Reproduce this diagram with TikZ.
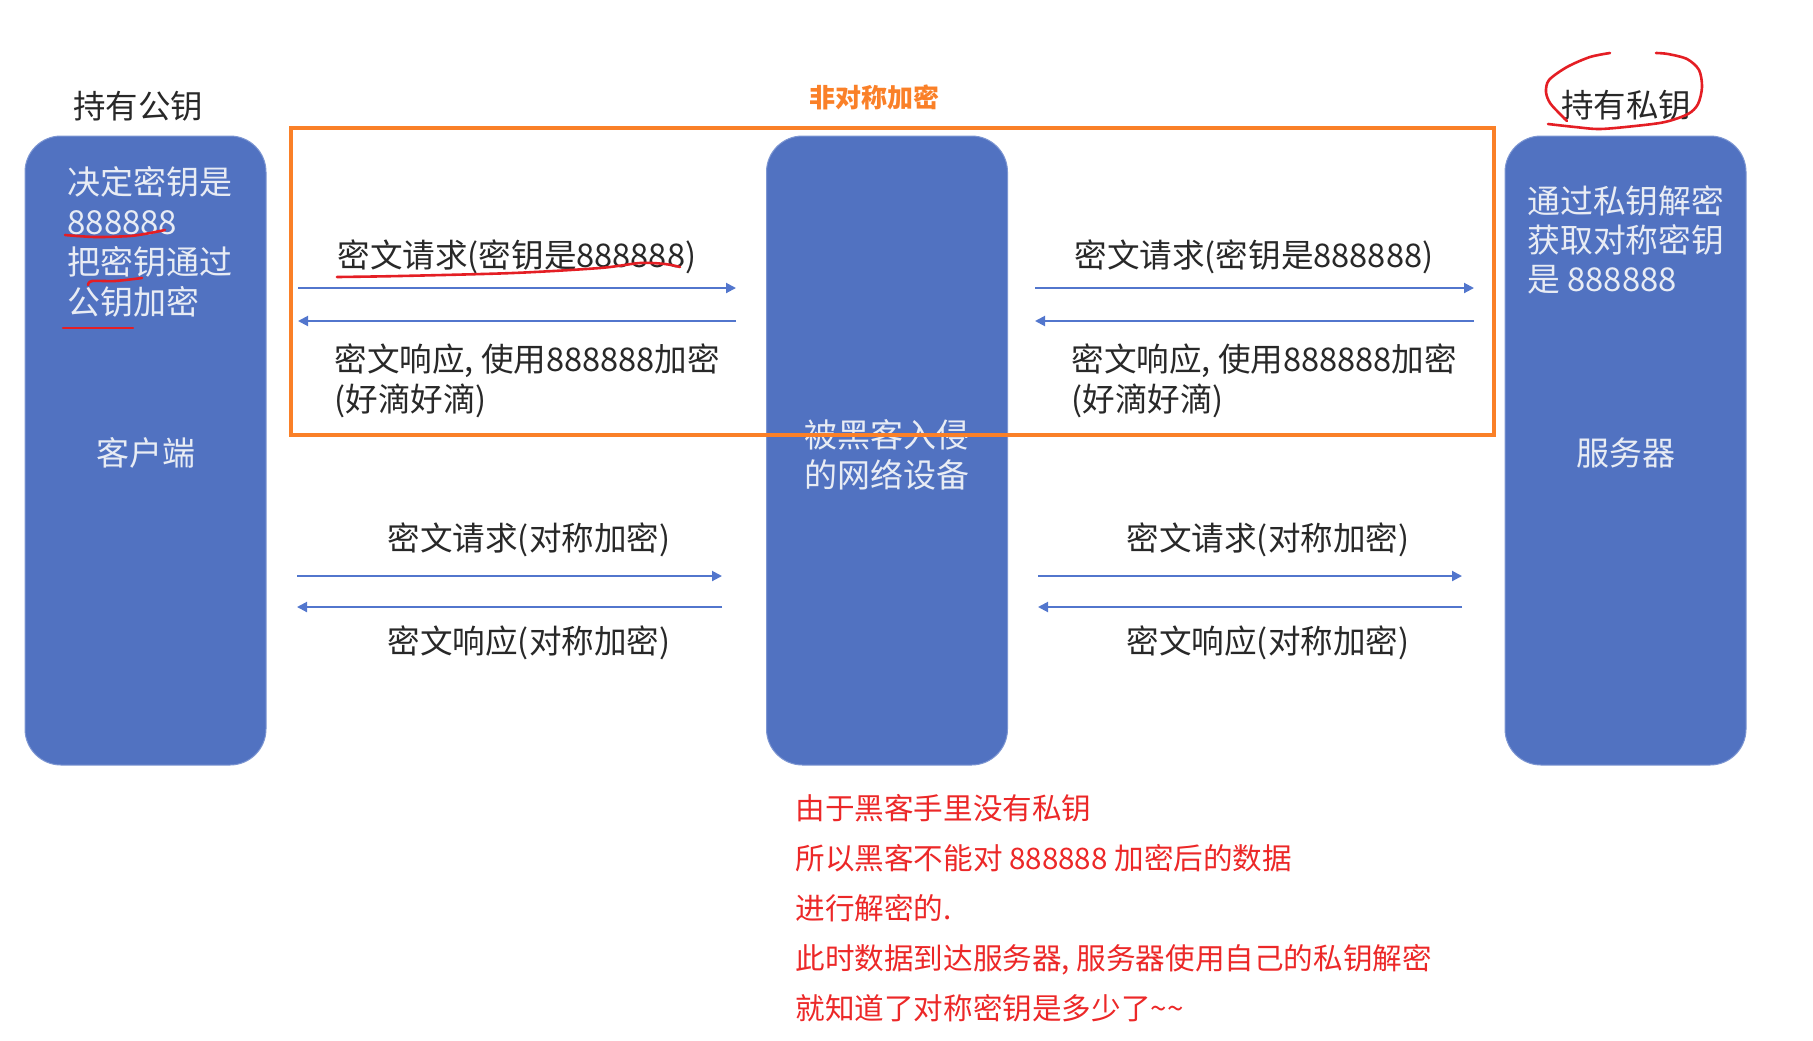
\documentclass[tikz,border=0pt]{standalone}
\usepackage{fontspec}
\setmainfont{Noto Sans CJK SC}
\usetikzlibrary{arrows.meta}
\definecolor{boxblue}{RGB}{81,114,193}
\definecolor{boxedge}{RGB}{125,150,210}
\definecolor{boxtext}{RGB}{232,236,244}
\definecolor{labeltext}{RGB}{40,40,40}
\definecolor{arrowblue}{RGB}{82,118,205}
\definecolor{frameorange}{RGB}{250,128,40}
\definecolor{markred}{RGB}{228,30,36}
\definecolor{notered}{RGB}{236,40,40}
\begin{document}
\begin{tikzpicture}[x=0.5pt,y=-0.5pt,
  bigbox/.style={draw=boxedge, line width=0.5pt, fill=boxblue, rounded corners=18pt,
    minimum width=120.5pt, minimum height=314.5pt, inner sep=0pt},
  boxlabel/.style={text=boxtext, inner sep=0pt, font=\fontsize{16.5}{20}\selectfont},
  title/.style={text=labeltext, inner sep=0pt, font=\fontsize{16.25}{20}\selectfont},
  msg/.style={text=labeltext, inner sep=0pt, font=\fontsize{16.3}{20}\selectfont},
  note/.style={text=notered, inner sep=0pt, align=left, font=\fontsize{14.8}{25}\selectfont},
  flow/.style={draw=arrowblue, line width=1pt, -{Triangle[length=5pt,width=5pt]}},
  redmark/.style={draw=markred, line width=1.3pt, line cap=round, line join=round},
  frame/.style={draw=frameorange, line width=2pt}
]
\useasboundingbox (0,0) rectangle (1813,1040);

% boxes
\node[bigbox] (client) at (145.5,450.5) {};
\node[bigbox] (hacker) at (887,450.5) {};
\node[bigbox] (server) at (1625.5,450.5) {};

% titles
\node[title] (pubtitle) at (138,106) {持有公钥};
\node[title] (privtitle) at (1626,105) {持有私钥};
\node[text=frameorange, inner sep=0pt, font=\fontsize{13}{15}\selectfont\bfseries] (asym) at (874,97) {非对称加密};

% box texts
\node[boxlabel, anchor=north west, align=left] (clienttext) at (67,166) {决定密钥是\\888888\\把密钥通过\\公钥加密};
\node[boxlabel] (clientname) at (146,453) {客户端};
\node[boxlabel, anchor=north west, align=left, font=\fontsize{16.4}{19.5}\selectfont] (servertext) at (1527,185) {通过私钥解密\\获取对称密钥\\是 888888};
\node[boxlabel] (servername) at (1626,453) {服务器};
\node[boxlabel, anchor=north, align=center] (hackertext) at (887,419) {被黑客入侵\\的网络设备};

% arrow endpoints
\coordinate (a1s) at (298,288); \coordinate (a1e) at (736,288);
\coordinate (a2s) at (736,321); \coordinate (a2e) at (298,321);
\coordinate (b1s) at (1035,288); \coordinate (b1e) at (1474,288);
\coordinate (b2s) at (1474,321); \coordinate (b2e) at (1035,321);
\coordinate (c1s) at (297,576); \coordinate (c1e) at (722,576);
\coordinate (c2s) at (722,607); \coordinate (c2e) at (297,607);
\coordinate (d1s) at (1038,576); \coordinate (d1e) at (1462,576);
\coordinate (d2s) at (1462,607); \coordinate (d2e) at (1038,607);

\draw[flow] (a1s) -- (a1e);
\draw[flow] (a2s) -- (a2e);
\draw[flow] (b1s) -- (b1e);
\draw[flow] (b2s) -- (b2e);
\draw[flow] (c1s) -- (c1e);
\draw[flow] (c2s) -- (c2e);
\draw[flow] (d1s) -- (d1e);
\draw[flow] (d2s) -- (d2e);

% message labels
\node[msg, anchor=west] (req1) at (337,257) {密文请求(密钥是888888)};
\node[msg, anchor=north west, align=left] (resp1) at (334,343) {密文响应, 使用888888加密\\(好滴好滴)};
\node[msg, anchor=west] (req2) at (1074,257) {密文请求(密钥是888888)};
\node[msg, anchor=north west, align=left] (resp2) at (1071,343) {密文响应, 使用888888加密\\(好滴好滴)};
\node[msg] (req3) at (529,540) {密文请求(对称加密)};
\node[msg] (resp3) at (529,643) {密文响应(对称加密)};
\node[msg] (req4) at (1268,540) {密文请求(对称加密)};
\node[msg] (resp4) at (1268,643) {密文响应(对称加密)};

% orange frame (on top)
\draw[frame] (291,128) rectangle (1494,435);

% note
\node[note, anchor=north west] (notetext) at (795,794) {由于黑客手里没有私钥\\所以黑客不能对 888888 加密后的数据\\进行解密的.\\此时数据到达服务器, 服务器使用自己的私钥解密\\就知道了对称密钥是多少了\textasciitilde\textasciitilde};

% red hand marks
\draw[redmark] plot[smooth] coordinates {(65,235) (95,237) (130,236) (150,233) (165,230)};
\draw[redmark] plot[smooth] coordinates {(88,285) (92,281) (115,281) (142,278)};
\draw[redmark] (63,328) -- (133,328);
\draw[redmark] plot[smooth] coordinates {(337,277) (400,276) (513,273) (600,268) (640,263) (665,264) (680,267)};
\draw[redmark] plot[smooth] coordinates {(1610,53) (1590,57) (1567,67) (1549,80) (1546,92) (1550,103) (1560,114) (1567,121)};
\draw[redmark] plot[smooth] coordinates {(1548,124) (1575,127) (1600,129) (1635,126) (1665,122) (1688,114) (1698,104) (1702,87) (1699,70) (1687,59) (1668,54) (1656,53)};
\end{tikzpicture}
\end{document}
